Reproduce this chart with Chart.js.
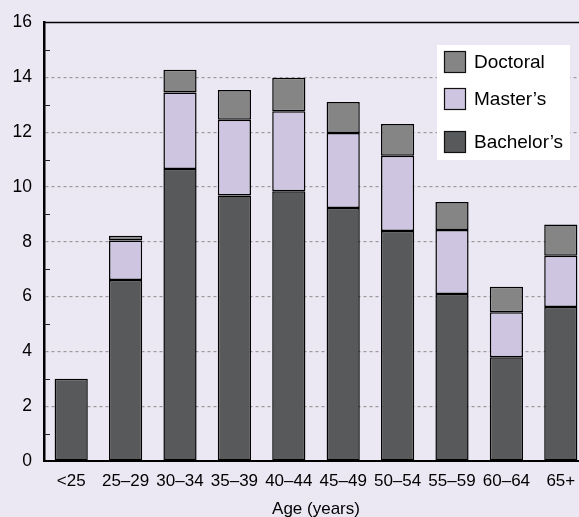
<!DOCTYPE html>
<html>
<head>
<meta charset="utf-8">
<script src="https://cdn.jsdelivr.net/npm/chart.js@4/dist/chart.umd.min.js"></script>
<style>
  html, body { margin: 0; padding: 0; background: #ebe8f3; overflow: hidden; }
  #wrap { width: 588px; height: 517px; position: relative; }
</style>
</head>
<body>
<div id="wrap"><canvas id="chart"></canvas></div>
<script>
// data (percent of group)
const ageGroups = ['<25', '25–29', '30–34', '35–39', '40–44', '45–49', '50–54', '55–59', '60–64', '65+'];
const bachelors = [3.0, 6.6, 10.65, 9.69, 9.84, 9.23, 8.39, 6.09, 3.79, 5.62];
const masters   = [null, 1.45, 2.8, 2.76, 2.92, 2.74, 2.75, 2.34, 1.64, 1.87];
const doctoral  = [null, 0.17, 0.83, 1.09, 1.22, 1.13, 1.16, 1.02, 0.93, 1.14];
const yMin = 0, yMax = 16, yStep = 2;
const minorTicks = [1, 3, 5, 7, 9, 11, 13, 15];
const xTitle = 'Age (years)';

const COLORS = { bachelors: '#58595b', masters: '#cec5e0', doctoral: '#858585' };
const FONT = '"Liberation Sans", Arial, Helvetica, sans-serif';

// legend order as in the picture (top to bottom)
const legendItems = [
  { label: 'Doctoral', color: COLORS.doctoral },
  { label: 'Master’s', color: COLORS.masters },
  { label: 'Bachelor’s', color: COLORS.bachelors }
];

const framePlugin = {
  id: 'frame',
  afterDraw(chart) {
    const { ctx, chartArea: a, scales: { y } } = chart;
    ctx.save();
    // top frame line
    ctx.strokeStyle = '#000';
    ctx.lineWidth = 1.5;
    ctx.beginPath();
    ctx.moveTo(a.left, a.top);
    ctx.lineTo(a.right, a.top);
    ctx.stroke();
    // minor ticks inside the y axis
    ctx.lineWidth = 1;
    ctx.strokeStyle = '#222';
    minorTicks.forEach(v => {
      const py = Math.round(y.getPixelForValue(v)) + 0.5;
      ctx.beginPath();
      ctx.moveTo(a.left, py);
      ctx.lineTo(a.left + 6, py);
      ctx.stroke();
    });
    // legend box
    ctx.fillStyle = '#fff';
    ctx.fillRect(437, 45, 133, 115);
    const rows = [62, 99, 142];
    ctx.font = '19px ' + FONT;
    ctx.textBaseline = 'middle';
    legendItems.forEach((it, i) => {
      ctx.fillStyle = it.color;
      ctx.fillRect(444.5, rows[i] - 10.5, 21, 21);
      ctx.strokeStyle = '#111';
      ctx.lineWidth = 1.2;
      ctx.strokeRect(444.5, rows[i] - 10.5, 21, 21);
      ctx.fillStyle = '#000';
      ctx.fillText(it.label, 474, rows[i] + 1);
    });
    ctx.restore();
  }
};

const barStyle = { borderColor: '#000', borderWidth: 1.5, borderSkipped: false, barPercentage: 0.61, categoryPercentage: 1 };

new Chart(document.getElementById('chart'), {
  type: 'bar',
  data: {
    labels: ageGroups,
    datasets: [
      { label: 'Bachelor’s', data: bachelors, backgroundColor: COLORS.bachelors, ...barStyle },
      { label: 'Master’s', data: masters, backgroundColor: COLORS.masters, ...barStyle },
      { label: 'Doctoral', data: doctoral, backgroundColor: COLORS.doctoral, ...barStyle }
    ]
  },
  options: {
    responsive: true, maintainAspectRatio: false, animation: false,
    layout: { padding: { top: 19, left: 0, right: 0, bottom: 0 } },
    plugins: { legend: { display: false }, tooltip: { enabled: false } },
    scales: {
      x: {
        stacked: true,
        grid: { display: false, drawTicks: false },
        border: { color: '#000', width: 2 },
        ticks: { color: '#000', font: { family: FONT, size: 17 }, padding: 10, maxRotation: 0, autoSkip: false },
        title: { display: true, text: xTitle, color: '#000', font: { family: FONT, size: 17 }, padding: { top: 0, bottom: -3 } },
        afterFit: s => { s.height = 56; }
      },
      y: {
        stacked: true, min: yMin, max: yMax,
        ticks: { stepSize: yStep, color: '#000', font: { family: FONT, size: 17.5 }, padding: 12 },
        grid: {
          drawTicks: false, lineWidth: 1.2,
          color: c => (c.tick.value === yMin || c.tick.value === yMax) ? 'rgba(0,0,0,0)' : '#9a9a9a'
        },
        border: { color: '#000', width: 2.5, dash: [3, 3] },
        afterFit: s => { s.width = 44; }
      }
    }
  },
  plugins: [framePlugin]
});
</script>
</body>
</html>
